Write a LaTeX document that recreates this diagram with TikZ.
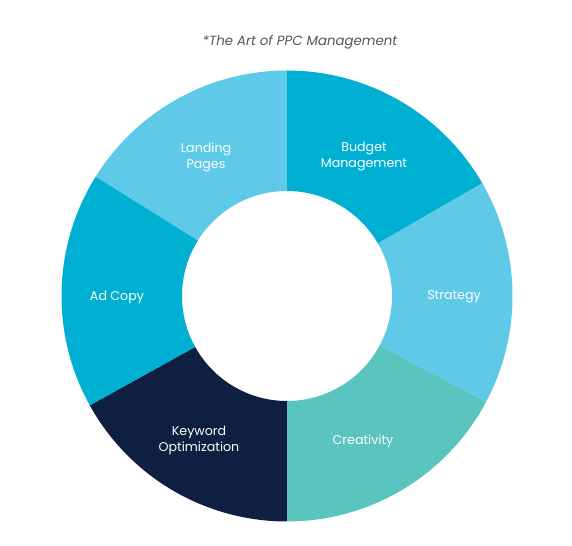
\documentclass[tikz,border=0pt]{standalone}
\usepackage{fontspec}
\setmainfont{Poppins}
\usepackage{xcolor}
\usepackage{tikz}
\usetikzlibrary{positioning}

\definecolor{ppcdeep}{HTML}{00B0D3}
\definecolor{ppclight}{HTML}{5FC9E8}
\definecolor{ppcteal}{HTML}{5AC4BF}
\definecolor{ppcnavy}{HTML}{0E1F41}
\definecolor{ppcgrey}{HTML}{555555}

\tikzset{
    seglabel/.style={text=white, font=\fontsize{9.5}{12}\selectfont, align=center},
}

\begin{document}
\begin{tikzpicture}[x=0.75pt, y=0.75pt]
        \useasboundingbox (-287,-250) rectangle (285,296);

        \node[text=ppcgrey, font=\fontsize{10}{12}\selectfont\itshape] (title) at (13,254) {*The Art of PPC Management};

        % ring, six pieces
        \fill[ppcdeep]  (30:105)  -- (30:225.5)  arc (30:90:225.5)   -- (90:105)  arc (90:30:105)   -- cycle;
        \fill[ppclight] (-28:105) -- (-28:225.5) arc (-28:30:225.5)  -- (30:105)  arc (30:-28:105)  -- cycle;
        \fill[ppcteal]  (270:105) -- (270:225.5) arc (270:332:225.5) -- (332:105) arc (332:270:105) -- cycle;
        \fill[ppcnavy]  (209:105) -- (209:225.5) arc (209:270:225.5) -- (270:105) arc (270:209:105) -- cycle;
        \fill[ppcdeep]  (148:105) -- (148:225.5) arc (148:209:225.5) -- (209:105) arc (209:148:105) -- cycle;
        \fill[ppclight] (90:105)  -- (90:225.5)  arc (90:148:225.5)  -- (148:105) arc (148:90:105)  -- cycle;

        \node[seglabel] (budget)   at (77,139)   {Budget\\Management};
        \node[seglabel] (strategy) at (167,-1)   {Strategy};
        \node[seglabel] (creative) at (76,-145)  {Creativity};
        \node[seglabel] (keyword)  at (-88,-144) {Keyword\\Optimization};
        \node[seglabel] (adcopy)   at (-170,-1)  {Ad Copy};
        \node[seglabel] (landing)  at (-81,139)  {Landing\\Pages};

\end{tikzpicture}
\end{document}
